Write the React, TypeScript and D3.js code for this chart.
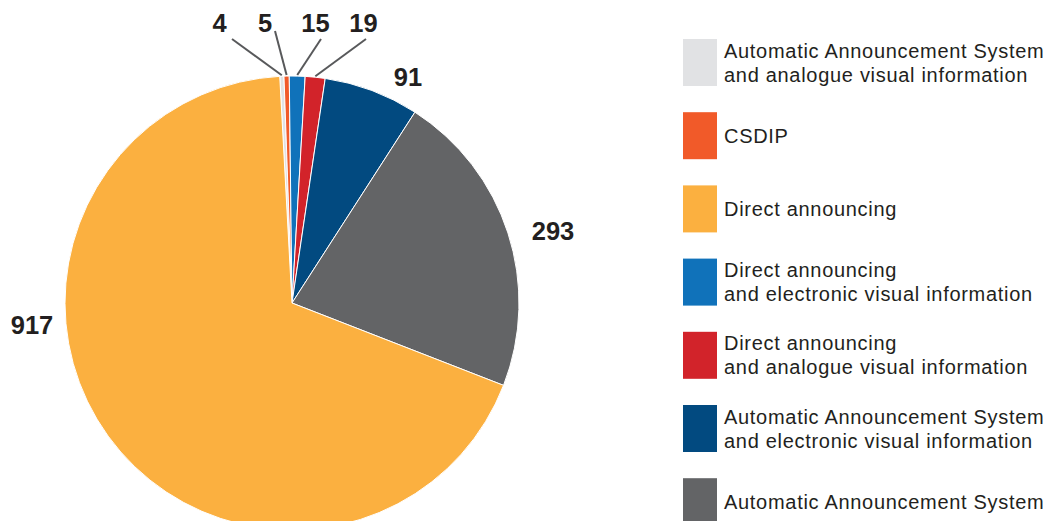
import React from "react";
import * as d3 from "d3";

const categories = [
  "Automatic Announcement System\nand analogue visual information",
  "CSDIP",
  "Direct announcing",
  "Direct announcing\nand electronic visual information",
  "Direct announcing\nand analogue visual information",
  "Automatic Announcement System\nand electronic visual information",
  "Automatic Announcement System",
];
// pie order (clockwise from just left of 12 o'clock)
const pieOrder = [0, 1, 3, 4, 5, 6, 2];
const values = [4, 5, 917, 15, 19, 91, 293];
const colors = ["#e1e2e4", "#f15a29", "#fbb040", "#1072ba", "#d2232a", "#024a80", "#636466"];

// label layout (text anchor point, and optional leader end)
const labelLayout: Record<number, { x: number; y: number; lx?: number; ly?: number }> = {
  0: { x: 219.5, y: 32, lx: 232, ly: 39 },
  1: { x: 265, y: 32, lx: 275, ly: 31 },
  3: { x: 315.5, y: 32, lx: 321, ly: 39 },
  4: { x: 363.5, y: 32, lx: 366, ly: 39 },
  5: { x: 408, y: 86 },
  6: { x: 553, y: 240 },
  2: { x: 32, y: 334 },
};

const W = 1051;
const H = 521;
const cx = 292;
const cy = 303;
const R = 227;
const startDeg = -3.1;

export default function App() {
  const font = "'Liberation Sans', Arial, Helvetica, sans-serif";
  const pieGen = d3
    .pie<number>()
    .sort(null)
    .value((i) => values[i])
    .startAngle((startDeg * Math.PI) / 180)
    .endAngle((startDeg * Math.PI) / 180 + 2 * Math.PI);
  const arcs = pieGen(pieOrder);
  const arcGen = d3.arc<d3.PieArcDatum<number>>().innerRadius(0).outerRadius(R);

  const legendTop = 39;
  const legendStep = 73.2;

  return (
    <div style={{ position: "absolute", left: 0, top: 0 }}>
      <svg width={W} height={H} style={{ display: "block", background: "#fff" }}>
        <g transform={`translate(${cx},${cy})`}>
          {arcs.map((a) => (
            <path
              key={a.data}
              d={arcGen(a) || ""}
              fill={colors[a.data]}
              stroke="#fff"
              strokeWidth={1}
            />
          ))}
        </g>
        {arcs.map((a) => {
          const L = labelLayout[a.data];
          const mid = (a.startAngle + a.endAngle) / 2;
          const px = cx + (R + 1) * Math.sin(mid);
          const py = cy - (R + 1) * Math.cos(mid);
          return (
            <g key={"l" + a.data}>
              {L.lx !== undefined && (
                <line x1={px} y1={py} x2={L.lx} y2={L.ly} stroke="#58595b" strokeWidth={2} />
              )}
              <text
                x={L.x}
                y={L.y}
                textAnchor="middle"
                fontFamily={font}
                fontWeight="bold"
                fontSize={25.5}
                fill="#231f20"
              >
                {values[a.data]}
              </text>
            </g>
          );
        })}
        {categories.map((c, i) => {
          const top = legendTop + i * legendStep;
          const lines = c.split("\n");
          const mid = top + 23.5;
          const lh = 24;
          const first = mid - ((lines.length - 1) * lh) / 2 + 7;
          return (
            <g key={"lg" + i}>
              <rect x={683} y={top} width={34} height={47} fill={colors[i]} />
              <text
                x={724}
                y={first}
                fontFamily={font}
                fontSize={20}
                letterSpacing={0.7}
                fill="#231f20"
              >
                {lines.map((ln, j) => (
                  <tspan key={j} x={724} dy={j === 0 ? 0 : lh}>
                    {ln}
                  </tspan>
                ))}
              </text>
            </g>
          );
        })}
      </svg>
    </div>
  );
}
